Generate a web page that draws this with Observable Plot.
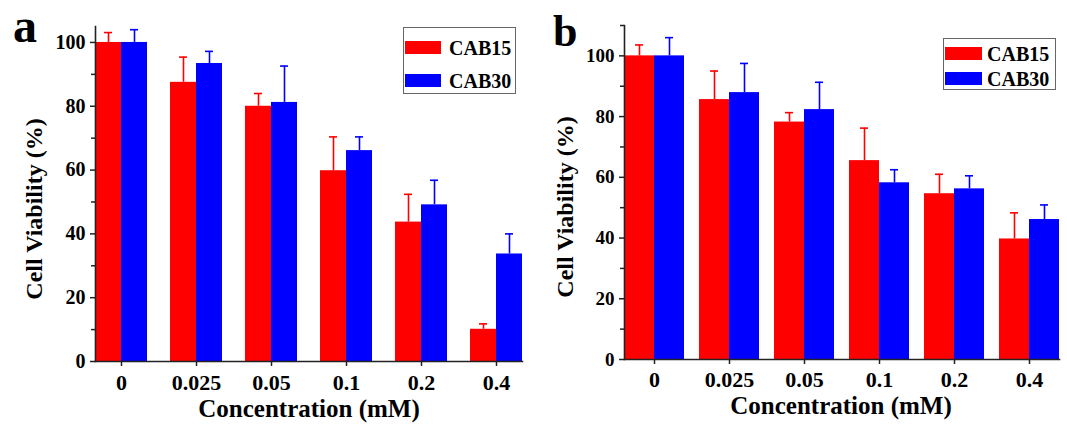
<!DOCTYPE html>
<html>
<head>
<meta charset="utf-8">
<script src="https://cdn.jsdelivr.net/npm/d3@7"></script>
<script src="https://cdn.jsdelivr.net/npm/@observablehq/plot@0.6"></script>
<style>
  html, body { margin: 0; padding: 0; background: #fff; }
  #root { position: relative; width: 1067px; height: 428px; overflow: hidden; background: #fff;
          font-family: "Liberation Serif", "Times New Roman", serif; font-weight: bold; color: #000; }
  .panel { position: absolute; top: 0; }
  .txt { position: absolute; white-space: nowrap; line-height: 1; }
  .legend { position: absolute; border: 1px solid #666; box-sizing: border-box; background: #fff; }
  .sw { position: absolute; }
</style>
</head>
<body>
<div id="root"></div>
<script>
// ---------- data ----------
const concentrations = ["0", "0.025", "0.05", "0.1", "0.2", "0.4"];
const seriesNames = ["CAB15", "CAB30"];
const seriesColors = ["#ff0000", "#0000ff"];

// panel a
const aCAB15 = [100, 87.5, 80.0, 59.8, 43.7, 10.1];
const aCAB15Err = [3.1, 7.9, 4.0, 10.6, 8.7, 1.7];
const aCAB30 = [100, 93.4, 81.2, 66.1, 49.1, 33.7];
const aCAB30Err = [4.0, 3.8, 11.4, 4.3, 7.7, 6.3];

// panel b
const bCAB15 = [100, 85.6, 78.2, 65.5, 54.6, 39.7];
const bCAB15Err = [3.6, 9.4, 3.1, 10.7, 6.4, 8.6];
const bCAB30 = [100, 87.9, 82.3, 58.2, 56.2, 46.1];
const bCAB30Err = [6.0, 9.6, 9.0, 4.3, 4.3, 4.8];

const majorTicks = [0, 20, 40, 60, 80, 100];
const minorTicksA = [10, 30, 50, 70, 90];
const minorTicksB = [10, 30, 50, 70, 90, 110];

const yTitle = "Cell Viability (%)";
const xTitle = "Concentration (mM)";

function rows(v15, e15, v30, e30) {
  const out = [];
  concentrations.forEach((c, i) => {
    out.push({conc: c, series: seriesNames[0], value: v15[i], err: e15[i]});
    out.push({conc: c, series: seriesNames[1], value: v30[i], err: e30[i]});
  });
  return out;
}

function panel(o) {
  const axisColor = "#222";
  return Plot.plot({
    width: o.width, height: 428,
    marginLeft: o.marginLeft, marginRight: o.marginRight,
    marginTop: o.marginTop, marginBottom: o.marginBottom,
    style: {fontFamily: "'Liberation Serif', 'Times New Roman', serif", fontWeight: "bold", color: "#000", background: "transparent", overflow: "visible"},
    fx: {domain: concentrations, paddingInner: o.paddingInner, paddingOuter: o.paddingOuter, align: o.align, label: null, axis: null},
    x: {domain: seriesNames, padding: 0, axis: null},
    y: {domain: [0, o.yMax], axis: null},
    color: {domain: seriesNames, range: seriesColors},
    marks: [
      Plot.barY(o.data, {fx: "conc", x: "series", y: "value", fill: "series", inset: 0}),
      Plot.ruleX(o.data, {fx: "conc", x: "series", y1: "value", y2: d => d.value + d.err, stroke: "series", strokeWidth: 1.6}),
      Plot.tickY(o.data, {fx: "conc", x: "series", y: d => d.value + d.err, stroke: "series", strokeWidth: 1.6, insetLeft: o.capInset, insetRight: o.capInset}),
      Plot.frame({anchor: "bottom", facet: "super", stroke: axisColor, strokeWidth: 1.6}),
      Plot.frame({anchor: "left", facet: "super", stroke: axisColor, strokeWidth: 1.6}),
      Plot.axisY({ticks: majorTicks, tickSize: 5, tickPadding: 5, fontSize: o.yFont, label: null, stroke: axisColor, strokeWidth: 1.5, fill: "#000"}),
      Plot.axisY({ticks: o.minorTicks, tickSize: 4, text: null, label: null, stroke: axisColor, strokeWidth: 1.5}),
      Plot.axisFx({anchor: "bottom", tickSize: 5, tickPadding: o.xPad, fontSize: o.xFont, label: null, stroke: axisColor, strokeWidth: 1.5, fill: "#000"})
    ]
  });
}

const root = document.getElementById("root");

function place(el, left) {
  const d = document.createElement("div");
  d.className = "panel";
  d.style.left = left + "px";
  d.appendChild(el);
  root.appendChild(d);
}

place(panel({
  data: rows(aCAB15, aCAB15Err, aCAB30, aCAB30Err),
  yMax: 105, minorTicks: minorTicksA,
  width: 540, marginLeft: 83, marginRight: 6, marginTop: 26, marginBottom: 67,
  paddingInner: 0.31, paddingOuter: 0.146, align: 0.5, capInset: 9,
  yFont: 20, xFont: 22, xPad: 8
}), 0);

place(panel({
  data: rows(bCAB15, bCAB15Err, bCAB30, bCAB30Err),
  yMax: 110, minorTicks: minorTicksB,
  width: 527, marginLeft: 75, marginRight: 0, marginTop: 25, marginBottom: 69,
  paddingInner: 0.2, paddingOuter: 0.1, align: 0.5, capInset: 11,
  yFont: 19, xFont: 22, xPad: 7
}), 540);

function text(str, cx, cy, size, rotate) {
  const d = document.createElement("div");
  d.className = "txt";
  d.textContent = str;
  d.style.fontSize = size + "px";
  d.style.left = cx + "px";
  d.style.top = cy + "px";
  d.style.transform = "translate(-50%,-50%)" + (rotate ? " rotate(-90deg)" : "");
  root.appendChild(d);
}
function letter(str, left, top, size) {
  const d = document.createElement("div");
  d.className = "txt";
  d.textContent = str;
  d.style.fontSize = size + "px";
  d.style.left = left + "px";
  d.style.top = top + "px";
  root.appendChild(d);
}

text(yTitle, 34, 209, 24, true);
text(yTitle, 565, 207, 24, true);
text(xTitle, 309, 408, 25, false);
text(xTitle, 841, 405, 25, false);
letter("a", 13, 2, 48);
letter("b", 553, 10, 44);

function legend(box, sw, rowsY, textLeft, textSize) {
  const l = document.createElement("div");
  l.className = "legend";
  l.style.left = box[0] + "px"; l.style.top = box[1] + "px";
  l.style.width = box[2] + "px"; l.style.height = box[3] + "px";
  root.appendChild(l);
  seriesNames.forEach((name, i) => {
    const s = document.createElement("div");
    s.className = "sw";
    s.style.left = sw[0] + "px"; s.style.top = rowsY[i] + "px";
    s.style.width = sw[1] + "px"; s.style.height = sw[2] + "px";
    s.style.background = seriesColors[i];
    root.appendChild(s);
    const t = document.createElement("div");
    t.className = "txt";
    t.textContent = name;
    t.style.fontSize = textSize + "px";
    t.style.left = textLeft + "px";
    t.style.top = (rowsY[i] + sw[2] / 2) + "px";
    t.style.transform = "translateY(-50%)";
    root.appendChild(t);
  });
}
legend([403, 27, 113, 67], [405, 36, 13], [41, 74], 449, 20);
legend([943, 38, 113, 52], [945, 37, 13], [47, 72], 987, 20);
</script>
</body>
</html>
